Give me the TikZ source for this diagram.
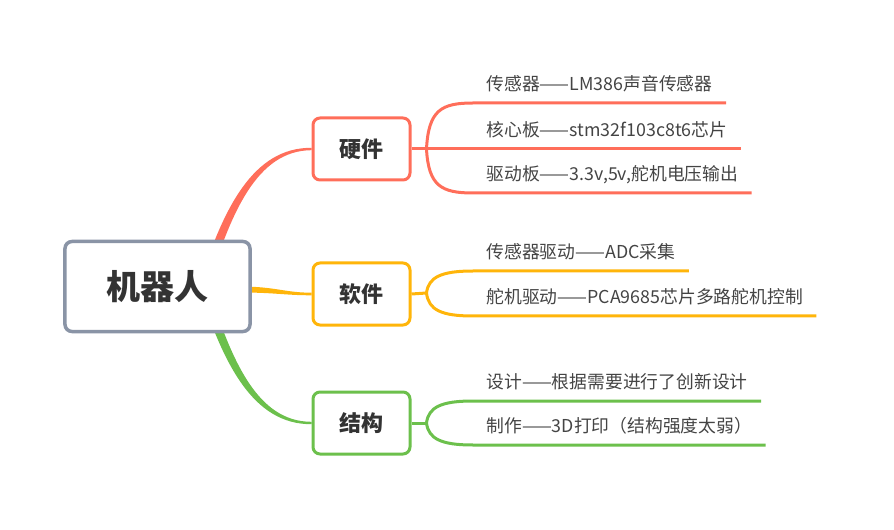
\documentclass[tikz,border=0pt]{standalone}
\usepackage{fontspec}
\setmainfont{Noto Sans CJK SC}
\usetikzlibrary{calc,backgrounds}
\definecolor{rojo}{RGB}{255,110,90}
\definecolor{amarillo}{RGB}{255,181,10}
\definecolor{verde}{RGB}{108,192,76}
\definecolor{gris}{RGB}{138,148,166}
\definecolor{tinta}{RGB}{51,51,51}
\definecolor{tinta2}{RGB}{68,68,68}

\begin{document}
\begin{tikzpicture}[x=1bp, y=-1bp, line width=3bp,
  raiz/.style={draw=gris, line width=3.5bp, rounded corners=7bp, fill=white,
    minimum width=185bp, minimum height=90bp, text=tinta,
    font=\fontsize{34bp}{40bp}\selectfont\bfseries},
  rama/.style={draw=#1, line width=3bp, rounded corners=7bp, fill=white,
    minimum width=97bp, minimum height=62bp, text=tinta,
    font=\fontsize{22bp}{26bp}\selectfont\bfseries},
  hoja/.style={anchor=south west, inner xsep=12bp, inner ysep=11bp,
    text depth=0pt, text=tinta2, font=\fontsize{17.8bp}{21bp}\selectfont}]
  \useasboundingbox (0,0) rectangle (894,530);
  % nodos principales
  \node[raiz] (robot) at (157.5,286.5) {机器人};
  \node[rama=rojo] (hw) at (361.5,149) {硬件};
  \node[rama=amarillo] (sw) at (361.5,294) {软件};
  \node[rama=verde] (st) at (361.5,423) {结构};
  % hojas
  \node[hoja] (hw1) at (473,103) {传感器——LM386声音传感器};
  \node[hoja] (hw2) at (473,149) {核心板——stm32f103c8t6芯片};
  \node[hoja] (hw3) at (473,193) {驱动板——3.3v,5v,舵机电压输出};
  \node[hoja] (sw1) at (473,271) {传感器驱动——ADC采集};
  \node[hoja] (sw2) at (473,316) {舵机驱动——PCA9685芯片多路舵机控制};
  \node[hoja] (st1) at (473,401) {设计——根据需要进行了创新设计};
  \node[hoja] (st2) at (473,445) {制作——3D打印（结构强度太弱）};
  % puntos de bifurcacion
  \coordinate (hwj) at ($(hw.east)+(15,0)$);
  \coordinate (swj) at ($(sw.east)+(15,-1)$);
  \coordinate (stj) at ($(st.east)+(15,0)$);
  \begin{scope}[on background layer]
    % conectores raiz-rama, mas gruesos en la raiz
    \fill[rojo] (198,288) .. controls (223,208) and (253,147.5) .. ($(hw.west)+(0,-1.2)$)
      -- ($(hw.west)+(0,1.2)$) .. controls (257,150.5) and (231,212) .. (207,290) -- cycle;
    \fill[amarillo] (240,286.5) .. controls (275,286.5) and (285,292.7) .. ($(sw.west)+(0,-1.3)$)
      -- ($(sw.west)+(0,1.3)$) .. controls (285,295.3) and (275,292.5) .. (240,292.5) -- cycle;
    \fill[verde] (207,283) .. controls (231,360) and (257,421.8) .. ($(st.west)+(0,-1.2)$)
      -- ($(st.west)+(0,1.2)$) .. controls (253,424.5) and (223,364) .. (198,285) -- cycle;
  \end{scope}
  % conectores rama-hoja
  \draw[rojo] (hw.east) -- (hwj) -- (hw2.south west) -- (hw2.south east);
  \draw[rojo] (hwj) .. controls ($(hwj)+(2,-39)$) and ($(hwj)+(15,-46)$) .. (hw1.south west) -- (hw1.south east);
  \draw[rojo] (hwj) .. controls ($(hwj)+(2,37)$) and ($(hwj)+(15,44)$) .. (hw3.south west) -- (hw3.south east);
  \draw[amarillo] (sw.east) -- (swj);
  \draw[amarillo] (swj) .. controls ($(swj)+(2,-16)$) and ($(swj)+(15,-22)$) .. (sw1.south west) -- (sw1.south east);
  \draw[amarillo] (swj) .. controls ($(swj)+(2,17)$) and ($(swj)+(15,23)$) .. (sw2.south west) -- (sw2.south east);
  \draw[verde] (st.east) -- (stj);
  \draw[verde] (stj) .. controls ($(stj)+(2,-16)$) and ($(stj)+(15,-22)$) .. (st1.south west) -- (st1.south east);
  \draw[verde] (stj) .. controls ($(stj)+(2,16)$) and ($(stj)+(15,22)$) .. (st2.south west) -- (st2.south east);
\end{tikzpicture}
\end{document}
